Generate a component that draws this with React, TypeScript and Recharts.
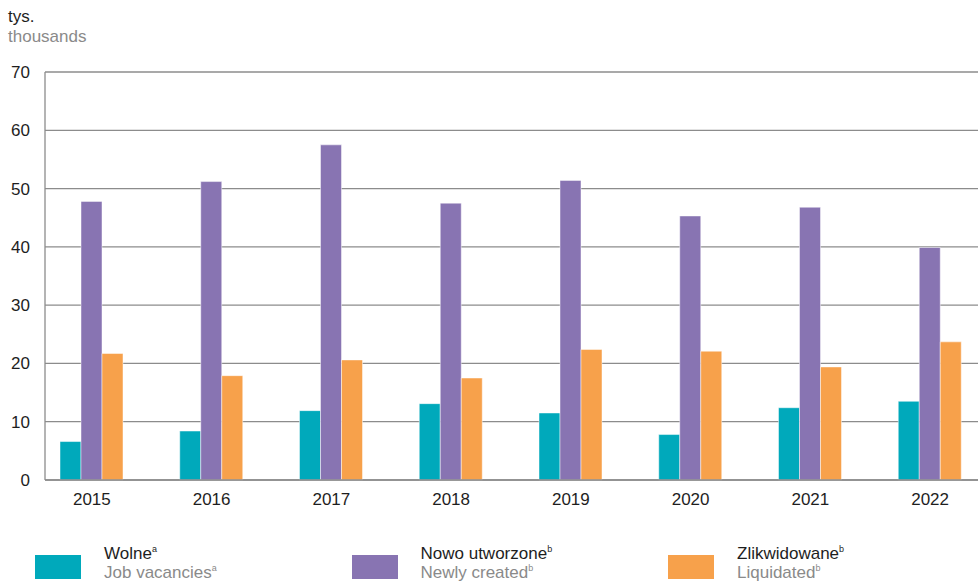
import { BarChart, Bar, XAxis, YAxis, CartesianGrid } from "recharts";

const years = ["2015", "2016", "2017", "2018", "2019", "2020", "2021", "2022"];
const vacancies = [6.6, 8.4, 11.9, 13.1, 11.5, 7.8, 12.4, 13.5];
const created = [47.8, 51.2, 57.5, 47.5, 51.4, 45.3, 46.8, 39.9];
const liquidated = [21.7, 17.9, 20.6, 17.5, 22.4, 22.1, 19.4, 23.7];
const yTicks = [0, 10, 20, 30, 40, 50, 60, 70];

const series = [
  { key: "vacancies", pl: "Wolne", en: "Job vacancies", note: "a", color: "#00a9bb" },
  { key: "created", pl: "Nowo utworzone", en: "Newly created", note: "b", color: "#8874b2" },
  { key: "liquidated", pl: "Zlikwidowane", en: "Liquidated", note: "b", color: "#f7a14b" },
];

const data = years.map((year, i) => ({
  year,
  vacancies: vacancies[i],
  created: created[i],
  liquidated: liquidated[i],
}));

const font = "'Liberation Sans', Arial, sans-serif";
const tickStyle = { fontSize: 17, fill: "#1e1e1e", fontFamily: font };

export default function App() {
  return (
    <div
      style={{
        position: "absolute",
        left: 0,
        top: 0,
        width: 978,
        height: 584,
        overflow: "hidden",
        background: "#fff",
        fontFamily: font,
      }}
    >
      <div style={{ position: "absolute", left: 8, top: 7, fontSize: 17, lineHeight: "20px" }}>
        <div style={{ color: "#1e1e1e" }}>tys.</div>
        <div style={{ color: "#8a8a8a" }}>thousands</div>
      </div>

      <BarChart
        width={978}
        height={584}
        data={data}
        margin={{ top: 72, right: 0, left: 0, bottom: 74 }}
        barGap={0}
        barSize={21}
      >
        <CartesianGrid vertical={false} stroke="#8c8c8c" strokeWidth={1.3} />
        <XAxis
          dataKey="year"
          height={30}
          padding={{ left: -13, right: -12 }}
          tick={tickStyle}
          tickLine={false}
          tickSize={0}
          tickMargin={13}
          axisLine={{ stroke: "#8c8c8c", strokeWidth: 1.3 }}
          interval={0}
        />
        <YAxis
          width={45}
          domain={[0, 70]}
          ticks={yTicks}
          tick={tickStyle}
          tickLine={false}
          tickSize={8}
          tickMargin={7}
          axisLine={{ stroke: "#8c8c8c", strokeWidth: 1.3 }}
        />
        {series.map((s) => (
          <Bar
            key={s.key}
            dataKey={s.key}
            fill={s.color}
            stroke="#ffffff"
            strokeOpacity={0.6}
            strokeWidth={0.8}
            isAnimationActive={false}
          />
        ))}
      </BarChart>

      {series.map((s, i) => (
        <div
          key={s.key}
          style={{ position: "absolute", left: 35 + i * 316.5, top: 544, display: "flex" }}
        >
          <div style={{ width: 46, height: 24, background: s.color, marginTop: 11 }} />
          <div style={{ marginLeft: 23, fontSize: 17, lineHeight: "19px" }}>
            <div style={{ color: "#1e1e1e" }}>
              {s.pl}
              <sup style={{ fontSize: 9, lineHeight: 0 }}>{s.note}</sup>
            </div>
            <div style={{ color: "#8a8a8a" }}>
              {s.en}
              <sup style={{ fontSize: 9, lineHeight: 0 }}>{s.note}</sup>
            </div>
          </div>
        </div>
      ))}
    </div>
  );
}
